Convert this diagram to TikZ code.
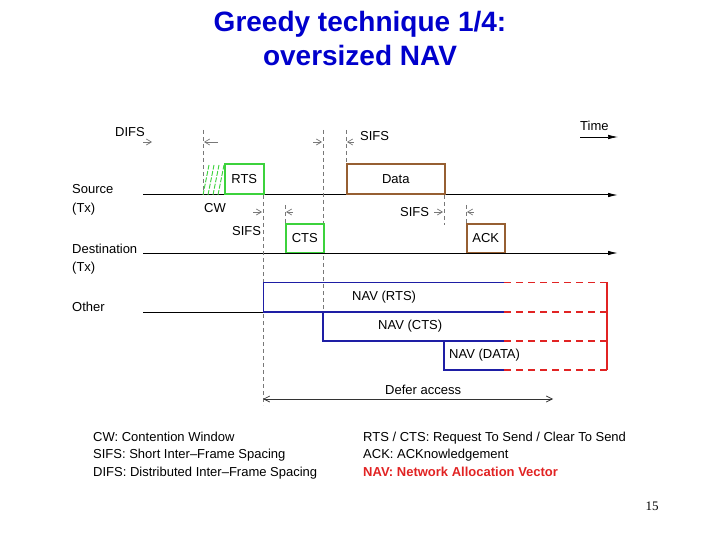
\documentclass[tikz,border=0pt]{standalone}
\usepackage{fontspec}
\setmainfont{Liberation Sans}
\newfontfamily\pagefont{Liberation Serif}
\usepackage{xcolor}
\usepackage{tikz}
\usetikzlibrary{arrows.meta,positioning}

\definecolor{titleblue}{RGB}{0,0,204}
\definecolor{rtsgreen}{RGB}{60,210,60}
\definecolor{databrown}{RGB}{150,95,50}
\definecolor{navblue}{RGB}{30,30,165}
\definecolor{navred}{RGB}{225,35,35}
\definecolor{guidegray}{RGB}{120,120,120}

\begin{document}
\begin{tikzpicture}[x=1pt,y=-1pt,
  txt/.style={font=\fontsize{13}{15}\selectfont,inner sep=0pt,anchor=base west},
  frame/.style={draw,line width=1.5pt,inner sep=0pt,anchor=south west,font=\fontsize{13}{15}\selectfont},
  axis/.style={-{Latex[length=10pt,width=4.5pt]},line width=1pt},
  guide/.style={guidegray,dash pattern=on 4pt off 3pt,line width=0.7pt},
  gap/.style={-{Straight Barb[length=5pt,width=6pt]},guidegray,line width=0.7pt},
  nav/.style={navblue,line width=1.5pt},
  navext/.style={navred,line width=1.5pt,dash pattern=on 7pt off 5pt}]
\useasboundingbox (0,0) rectangle (720,540);

% title
\node[font=\bfseries\fontsize{28}{34}\selectfont,text=titleblue,anchor=base,inner sep=0pt] (title1) at (360,32) {Greedy technique 1/4:};
\node[font=\bfseries\fontsize{28}{34}\selectfont,text=titleblue,inner sep=0pt,below=34pt of title1.base,anchor=base] (title2) {oversized NAV};

% stations
\node[txt] (src) at (72,194) {Source};
\node[txt,below=19pt of src.base west,anchor=base west] (srctx) {(Tx)};
\node[txt] (dst) at (72,253) {Destination};
\node[txt,below=18pt of dst.base west,anchor=base west] (dsttx) {(Tx)};
\node[txt] (oth) at (72,311) {Other};

% time lines
\coordinate (srcL) at (143,195);
\coordinate (srcR) at (618,195);
\coordinate (dstL) at (143,253);
\coordinate (dstR) at (618,253);
\coordinate (othL) at (143,312);
\coordinate (othR) at (263,312);
\draw[axis] (srcL) -- (srcR);
\draw[axis] (dstL) -- (dstR);
\draw[line width=1pt] (othL) -- (othR);
\node[txt] (time) at (580,131) {Time};
\draw[axis,line width=0.7pt] (580,137) -- (618,137);

% dashed guides
\draw[guide] (203,130) -- (203,195);
\draw[guide] (323,130) -- (323,312);
\draw[guide] (346,130) -- (346,165);
\draw[guide] (263,195) -- (263,405);
\draw[guide] (285,205) -- (285,225);
\draw[guide] (444,195) -- (444,225);
\draw[guide] (466,205) -- (466,225);

% interval marks
\draw[gap] (143,142) -- (152,142);
\draw[gap] (218,142) -- (204,142);
\draw[gap] (313,142) -- (322,142);
\draw[gap] (354,142) -- (347,142);
\draw[gap] (253,212) -- (262,212);
\draw[gap] (293,212) -- (286,212);
\draw[gap] (434,212) -- (443,212);
\draw[gap] (474,212) -- (467,212);
\node[txt] (difs) at (115,137) {DIFS};
\node[txt] (sifsa) at (360,141) {SIFS};
\node[txt] (sifsb) at (232,236) {SIFS};
\node[txt] (sifsc) at (400,217) {SIFS};
\node[txt] (cw) at (204,213) {CW};

% frames
\foreach \i in {0,5,10,15}
  \draw[rtsgreen,dash pattern=on 5pt off 1.5pt,line width=0.9pt] (203+\i,195) -- (209+\i,165);
\node[frame,draw=rtsgreen,minimum width=39pt,minimum height=30pt] (rts) at (224,195) {RTS};
\node[frame,draw=rtsgreen,minimum width=38pt,minimum height=28pt] (cts) at (285,253) {CTS};
\node[frame,draw=databrown,minimum width=98pt,minimum height=30pt] (data) at (346,195) {Data};
\node[frame,draw=databrown,minimum width=38pt,minimum height=28pt] (ack) at (466,253) {ACK};

% NAV
\draw[navblue,line width=1pt] (263,312) -- (263,282) -- (504,282);
\draw[nav] (263,312) -- (504,312);
\draw[nav] (323,312) |- (504,341);
\draw[nav] (444,341) |- (504,370);
\draw[navext,line width=1pt] (504,282) -- (607,282);
\draw[navext] (504,312) -- (607,312);
\draw[navext] (504,341) -- (607,341);
\draw[navext] (504,370) -- (607,370);
\draw[navred,line width=1.1pt] (607,282) -- (607,370);
\node[txt] (navrts) at (352,300) {NAV (RTS)};
\node[txt] (navcts) at (378,329) {NAV (CTS)};
\node[txt] (navdata) at (449,358) {NAV (DATA)};

% defer
\draw[{Straight Barb[length=6pt,width=6pt]}-{Straight Barb[length=6pt,width=6pt]},line width=0.7pt,black!80] (263,399) -- (553,399);
\node[txt] (defer) at (385,394) {Defer access};

% legend
\node[txt] (lcw) at (93,441) {CW: Contention Window};
\node[txt] (lsifs) at (93,458) {SIFS: Short Inter{\textendash}Frame Spacing};
\node[txt] (ldifs) at (93,476) {DIFS: Distributed Inter{\textendash}Frame Spacing};
\node[txt] (lrts) at (363,441) {RTS / CTS: Request To Send / Clear To Send};
\node[txt] (lack) at (363,458) {ACK: ACKnowledgement};
\node[txt,text=navred,font=\bfseries\fontsize{13}{15}\selectfont] (lnav) at (363,476) {NAV: Network Allocation Vector};

% page number
\node[font=\pagefont\fontsize{13}{15}\selectfont,anchor=base,inner sep=0pt] (pagenum) at (652,510) {15};
\end{tikzpicture}
\end{document}
